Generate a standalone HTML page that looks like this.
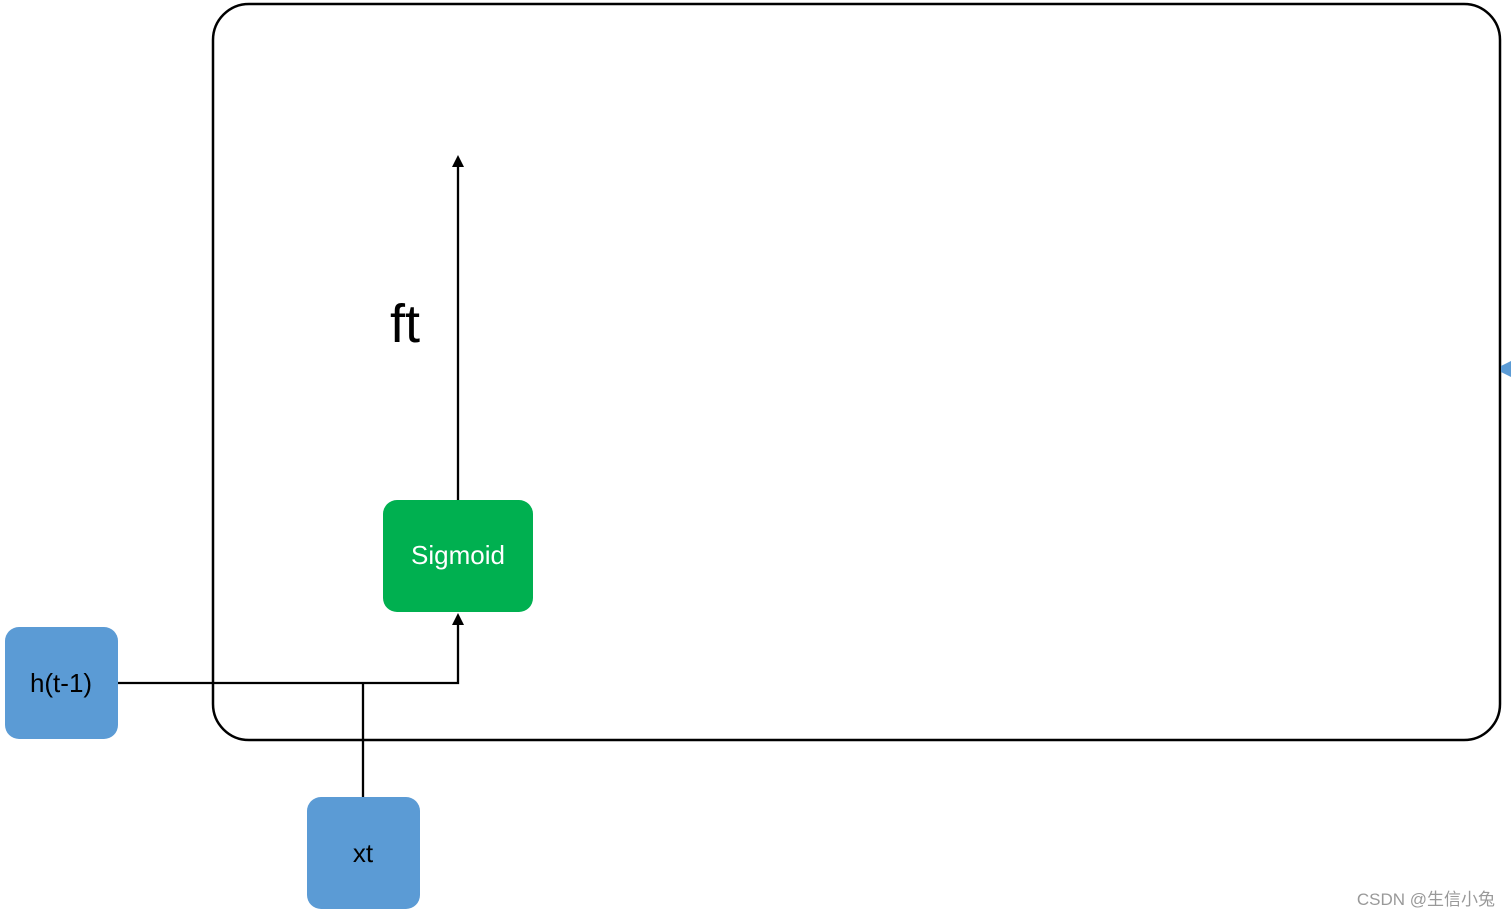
<!DOCTYPE html>
<html><head><meta charset="utf-8"><style>
html,body{margin:0;padding:0;background:#fff;width:1511px;height:917px;overflow:hidden}
svg{display:block}
</style></head><body>
<svg width="1511" height="917" viewBox="0 0 1511 917" xmlns="http://www.w3.org/2000/svg">
<defs>
<marker id="ah" markerWidth="10" markerHeight="10" refX="5" refY="5" orient="auto" markerUnits="userSpaceOnUse">
<path d="M0,0 L10,5 L0,10 z" fill="#000"/>
</marker>
</defs>
<rect x="213" y="4" width="1287" height="736" rx="36" ry="36" fill="none" stroke="#000" stroke-width="2.5"/>
<rect x="5" y="627" width="113" height="112" rx="14" fill="#5b9bd5"/>
<rect x="307" y="797" width="113" height="112" rx="14" fill="#5b9bd5"/>
<rect x="383" y="500" width="150" height="112" rx="14" fill="#00b050"/>
<polyline points="118,683 458,683 458,622" fill="none" stroke="#000" stroke-width="2.3"/>
<path d="M452,625 L458,613 L464,625 z" fill="#000"/>
<line x1="363" y1="683" x2="363" y2="797" stroke="#000" stroke-width="2.3"/>
<line x1="458" y1="500" x2="458" y2="165" stroke="#000" stroke-width="2.3"/>
<path d="M452,167 L458,155 L464,167 z" fill="#000"/>
<path d="M1501,366 L1511,361 L1511,377 L1501,372 z" fill="#5b9bd5"/>
<text x="61" y="692" font-family="Liberation Sans, sans-serif" font-size="26" text-anchor="middle" fill="#000">h(t-1)</text>
<text x="363" y="862" font-family="Liberation Sans, sans-serif" font-size="26" text-anchor="middle" fill="#000">xt</text>
<text x="458" y="564" font-family="Liberation Sans, sans-serif" font-size="26" text-anchor="middle" fill="#fff">Sigmoid</text>
<text x="405" y="342" font-family="Liberation Sans, sans-serif" font-size="54" text-anchor="middle" fill="#000">ft</text>
<text x="1495" y="905" font-family="Liberation Sans, 'Noto Sans CJK SC', sans-serif" font-size="17" text-anchor="end" fill="#999">CSDN @生信小兔</text>
</svg>
</body></html>
